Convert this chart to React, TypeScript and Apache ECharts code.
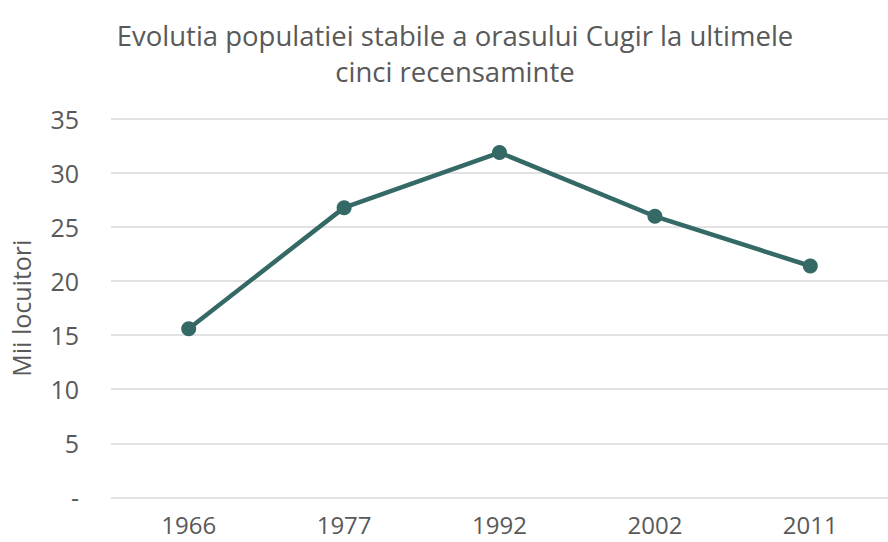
import React, { useEffect, useRef } from "react";
import * as echarts from "echarts";

const titleText = "Evolutia populatiei stabile a orasului Cugir la ultimele\ncinci recensaminte";
const yAxisName = "Mii locuitori";
const years = ["1966", "1977", "1992", "2002", "2011"];
const population = [15.6, 26.8, 31.9, 26.0, 21.4];

const FONT = "Open Sans";
const TEXT_COLOR = "#595959";
const LINE_COLOR = "#346966";

export default function App() {
  const ref = useRef<HTMLDivElement>(null);
  useEffect(() => {
    if (!ref.current) return;
    const chart = echarts.init(ref.current, undefined, { renderer: "svg" });
    chart.setOption({
      animation: false,
      backgroundColor: "#ffffff",
      title: {
        text: titleText,
        left: 450,
        top: 12,
        textAlign: "center",
        textStyle: {
          fontFamily: FONT,
          fontSize: 27.5,
          fontWeight: "normal",
          color: TEXT_COLOR,
          lineHeight: 36,
        },
      },
      grid: { left: 108, top: 119, width: 792, bottom: 44.7, containLabel: false },
      xAxis: {
        type: "category",
        data: years,
        boundaryGap: true,
        axisLine: { show: false },
        axisTick: { show: false },
        axisLabel: {
          color: TEXT_COLOR,
          fontFamily: FONT,
          fontSize: 24,
          lineHeight: 24,
          margin: 15,
        },
      },
      yAxis: {
        type: "value",
        min: 0,
        max: 35,
        interval: 5,
        name: yAxisName,
        nameLocation: "middle",
        nameGap: 78,
        nameTextStyle: { color: TEXT_COLOR, fontFamily: FONT, fontSize: 25 },
        axisLine: { show: false },
        axisTick: { show: false },
        axisLabel: {
          color: TEXT_COLOR,
          fontFamily: FONT,
          fontSize: 25,
          margin: 32,
          formatter: (v: number) => (v === 0 ? "-" : String(v)),
        },
        splitLine: { lineStyle: { color: "#d9d9d9", width: 1.5 } },
      },
      series: [
        {
          type: "line",
          data: population,
          symbol: "circle",
          symbolSize: 15,
          lineStyle: { color: LINE_COLOR, width: 4.5 },
          itemStyle: { color: LINE_COLOR },
        },
      ],
    });
    return () => chart.dispose();
  }, []);
  return (
    <div
      ref={ref}
      style={{ position: "fixed", left: 0, top: 0, width: 888, height: 542, background: "#fff" }}
    />
  );
}
